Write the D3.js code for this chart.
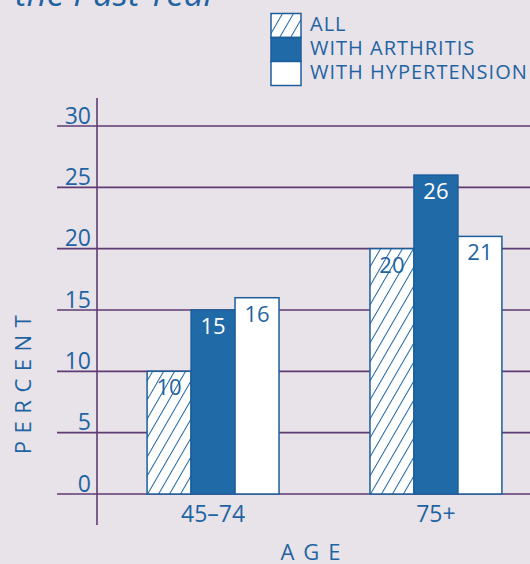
<!DOCTYPE html>
<html>
<head>
<meta charset="utf-8">
<script src="https://cdn.jsdelivr.net/npm/d3@7"></script>
<style>
  html, body { margin: 0; padding: 0; background: #e8e2e9; }
  svg { display: block; font-family: "Open Sans", "Noto Sans", sans-serif; }
</style>
</head>
<body>
<svg id="chart" width="530" height="564"></svg>
<script>
// Share of people by age group, by condition
const ageGroups = ["45–74", "75+"];
const seriesNames = ["ALL", "WITH ARTHRITIS", "WITH HYPERTENSION"];
const allValues = [10, 20];
const arthritisValues = [15, 26];
const hypertensionValues = [16, 21];
const yTicks = [0, 5, 10, 15, 20, 25, 30];

const BLUE = "#1f64a2";
const BAR_DARK = "#216aa8";
const GRID = "#5f3b73";

const svg = d3.select("#chart");

const defs = svg.append("defs");
defs.append("pattern")
  .attr("id", "hatch")
  .attr("patternUnits", "userSpaceOnUse")
  .attr("width", 9.5).attr("height", 10)
  .attr("patternTransform", "rotate(30)")
  .call(p => {
    p.append("rect").attr("width", 9.5).attr("height", 10).attr("fill", "#fff");
    p.append("line").attr("x1", 0.5).attr("x2", 0.5).attr("y1", 0).attr("y2", 10)
      .attr("stroke", BLUE).attr("stroke-width", 1);
  });

const seriesStyle = [
  { fill: "url(#hatch)", label: BLUE },
  { fill: BAR_DARK, label: "#ffffff" },
  { fill: "#ffffff", label: BLUE }
];
const seriesValues = [allValues, arthritisValues, hypertensionValues];

const y = d3.scaleLinear().domain([0, 30]).range([494, 126]);
const x0 = d3.scaleBand().domain(ageGroups).range([102.5, 546.5])
  .paddingInner(0.408).paddingOuter(0.2);
const x1 = d3.scaleBand().domain(seriesNames).range([0, x0.bandwidth()]);

// title line (continues from above the frame)
svg.append("text")
  .attr("x", 15).attr("y", 6)
  .attr("font-size", 35).attr("font-style", "italic")
  .attr("fill", BLUE)
  .text("the Past Year");

// gridlines
const yAxis = d3.axisLeft(y).tickValues(yTicks).tickSize(0).tickPadding(0);
svg.append("g")
  .selectAll("line.grid")
  .data(yTicks)
  .join("line")
  .attr("x1", 57).attr("x2", 530)
  .attr("y1", d => y(d)).attr("y2", d => y(d))
  .attr("stroke", GRID).attr("stroke-width", 1.6);

// tick labels
const axisG = svg.append("g").attr("transform", "translate(91,0)").call(yAxis);
axisG.select(".domain").remove();
axisG.selectAll("text")
  .attr("dy", 0)
  .attr("y", -3)
  .attr("font-size", 23)
  .attr("font-family", "'Open Sans', sans-serif")
  .attr("fill", BLUE);

// vertical axis line
svg.append("line")
  .attr("x1", 97).attr("x2", 97).attr("y1", 98).attr("y2", 525)
  .attr("stroke", GRID).attr("stroke-width", 1.6);

// bars
const groups = svg.append("g").selectAll("g")
  .data(ageGroups)
  .join("g")
  .attr("transform", d => `translate(${x0(d)},0)`);

groups.each(function(age, gi) {
  const g = d3.select(this);
  seriesNames.forEach((s, si) => {
    const v = seriesValues[si][gi];
    g.append("rect")
      .attr("x", x1(s)).attr("width", x1.bandwidth())
      .attr("y", y(v)).attr("height", y(0) - y(v))
      .attr("fill", seriesStyle[si].fill)
      .attr("stroke", "#1c5e9c").attr("stroke-width", 1.5);
    g.append("text")
      .attr("x", x1(s) + x1.bandwidth() / 2)
      .attr("y", y(v) + 24)
      .attr("text-anchor", "middle")
      .attr("font-size", 22)
      .attr("fill", seriesStyle[si].label)
      .text(v);
  });
});

// category labels
svg.append("g").selectAll("text")
  .data(ageGroups)
  .join("text")
  .attr("x", d => x0(d) + x0.bandwidth() / 2)
  .attr("y", 522)
  .attr("text-anchor", "middle")
  .attr("font-size", 23)
  .attr("fill", BLUE)
  .text(d => d);

// axis titles
svg.append("text")
  .attr("x", 315).attr("y", 560)
  .attr("text-anchor", "middle")
  .attr("font-size", 22)
  .attr("letter-spacing", 9)
  .attr("fill", BLUE)
  .text("AGE");

svg.append("text")
  .attr("transform", "translate(31,381) rotate(-90)")
  .attr("text-anchor", "middle")
  .attr("font-size", 22)
  .attr("letter-spacing", 7.5)
  .attr("fill", BLUE)
  .text("PERCENT");

// legend
const legend = svg.append("g").attr("transform", "translate(271,13.5)");
seriesNames.forEach((s, i) => {
  legend.append("rect")
    .attr("x", 0).attr("y", i * 24)
    .attr("width", 30).attr("height", 24)
    .attr("fill", seriesStyle[i].fill)
    .attr("stroke", "#1c5e9c").attr("stroke-width", 1.5);
  legend.append("text")
    .attr("x", 39).attr("y", i * 24 + 17.5)
    .attr("font-size", 20)
    .attr("letter-spacing", 1)
    .attr("fill", BLUE)
    .text(s);
});
</script>
</body>
</html>
